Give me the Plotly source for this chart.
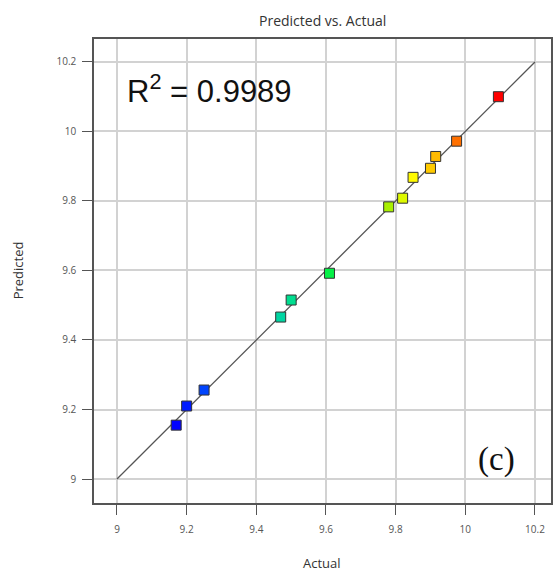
import plotly.graph_objects as go

actual = [9.17, 9.20, 9.25, 9.47, 9.50, 9.61, 9.78, 9.82, 9.85, 9.90, 9.915, 9.975, 10.095]
predicted = [9.155, 9.21, 9.256, 9.466, 9.515, 9.592, 9.783, 9.808, 9.868, 9.894, 9.928, 9.972, 10.10]
tick_vals = [9, 9.2, 9.4, 9.6, 9.8, 10, 10.2]
tick_text = ["9", "9.2", "9.4", "9.6", "9.8", "10", "10.2"]
ref_line = [9, 10.2]

scale = [[0, '#0000FF'], [0.08, '#0040FF'], [0.33, '#00D8A0'], [0.47, '#00F048'],
         [0.66, '#A8F000'], [0.73, '#FFFF00'], [0.80, '#FFC000'], [0.87, '#FF7000'], [1, '#FF0000']]

fig = go.Figure()
fig.add_trace(go.Scatter(x=ref_line, y=ref_line, mode='lines',
                         line=dict(color='#555555', width=1.3), hoverinfo='skip'))
fig.add_trace(go.Scatter(x=actual, y=predicted, mode='markers',
                         marker=dict(symbol='square', size=10, color=actual,
                                     colorscale=scale, cmin=min(actual), cmax=max(actual),
                                     line=dict(color='#333333', width=1))))

axis_common = dict(tickvals=tick_vals, ticktext=tick_text, showgrid=True,
                   gridcolor='#d2d2d2', gridwidth=1.5, zeroline=False,
                   showline=True, linecolor='#555555', linewidth=1.5, mirror=True,
                   ticks='outside', ticklen=10, tickcolor='#555555', tickwidth=1,
                   tickfont=dict(family='Open Sans', size=10, color='#555555'))

W, H = 553, 574
l, r, t, b = 94, 0, 39, 71
pw, ph = W - l - r, H - t - b

def px(xp):
    return (xp - l) / pw

def py(yp):
    return (H - b - yp) / ph

texts = [
    ('Predicted vs. Actual', (323, 20), dict(size=14, color='#333333'), 0),
    ('R<sup>2</sup> = 0.9989', (210, 89), dict(family='Liberation Sans', size=31, color='#111111'), 0),
    ('(c)', (498, 459), dict(family='Liberation Serif', size=33, color='#111111'), 0),
    ('Actual', (323, 563), dict(size=13, color='#333333'), 0),
    ('Predicted', (18, 270), dict(size=13, color='#333333'), -90),
]
annotations = [dict(text=tx, x=px(xp), y=py(yp), xref='paper', yref='paper',
                    xanchor='center', yanchor='middle', showarrow=False,
                    font=f, textangle=ang)
               for tx, (xp, yp), f, ang in texts]

fig.update_layout(
    width=W, height=H,
    margin=dict(l=l, r=r, t=t, b=b),
    paper_bgcolor='white', plot_bgcolor='white',
    showlegend=False,
    font=dict(family='Open Sans'),
    xaxis=dict(range=[8.934, 10.246], ticklabelstandoff=6, **axis_common),
    yaxis=dict(range=[8.931, 10.266], ticklabelstandoff=4, **axis_common),
    annotations=annotations,
)

fig.write_html('out.html', config={'displayModeBar': False},
               post_script="document.body.style.margin='0';document.body.style.overflow='hidden';")
